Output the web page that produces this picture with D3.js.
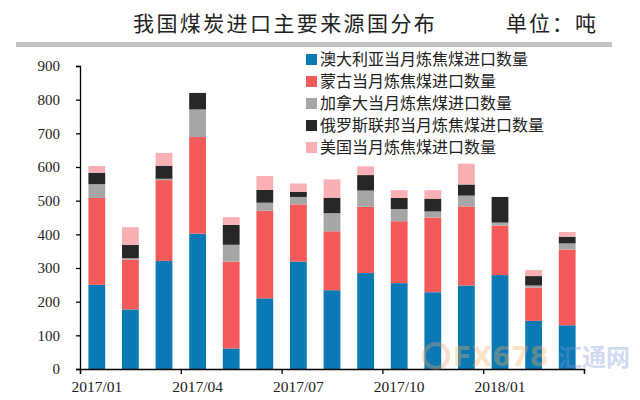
<!DOCTYPE html>
<html><head><meta charset="utf-8">
<script src="https://cdn.jsdelivr.net/npm/d3@7"></script>
<style>body{margin:0;background:#fff}svg{display:block}</style>
</head><body>
<svg id="c" width="640" height="400"></svg>
<script>
const months = ["2017/01","2017/02","2017/03","2017/04","2017/05","2017/06","2017/07","2017/08","2017/09","2017/10","2017/11","2017/12","2018/01","2018/02","2018/03"];
const australia = [250,177,321,402,61,210,319,234,285,255,228,248,279,143,130];
const mongolia  = [258,148,240,287,258,260,170,175,197,184,222,235,147,99,225];
const canada    = [41,4,4,82,50,24,22,54,48,36,18,32,9,6,18];
const russia    = [34,40,39,49,59,38,15,46,46,33,38,33,76,28,20];
const usa       = [20,52,38,0,23,41,25,54,26,23,25,62,0,18,14];
const seriesNames = ["澳大利亚当月炼焦煤进口数量","蒙古当月炼焦煤进口数量","加拿大当月炼焦煤进口数量","俄罗斯联邦当月炼焦煤进口数量","美国当月炼焦煤进口数量"];
const colors = ["#0b79b3","#f45a5a","#a6a6a6","#272727","#f8b0b4"];
const yTicks = [0,100,200,300,400,500,600,700,800,900];
const xLabelMonths = ["2017/01","2017/04","2017/07","2017/10","2018/01"];

const svg = d3.select("#c");
const serif = "'Liberation Serif','Times New Roman',serif";
const cjk = "'Noto Sans CJK SC','Noto Sans CJK JP',sans-serif";

// title
svg.append("text").attr("x",133).attr("y",31).attr("font-family",cjk).attr("font-size",21)
  .attr("letter-spacing",2.4).attr("fill","#222").text("我国煤炭进口主要来源国分布");
svg.append("text").attr("x",506).attr("y",31).attr("font-family",cjk).attr("font-size",21)
  .attr("letter-spacing",2).attr("fill","#222").text("单位：吨");
svg.append("rect").attr("x",16).attr("y",42).attr("width",596).attr("height",5).attr("fill","#c3c3c3");

const x0 = 80, x1 = 584, yTop = 66, yBot = 369;
const x = d3.scaleBand().domain(months).range([x0,x1]).paddingInner(0.5).paddingOuter(0.25);
const y = d3.scaleLinear().domain([0,900]).range([yBot,yTop]);

const table = months.map((m,i)=>({month:m,s0:australia[i],s1:mongolia[i],s2:canada[i],s3:russia[i],s4:usa[i]}));
const stack = d3.stack().keys(["s0","s1","s2","s3","s4"])(table);

svg.append("g").selectAll("g").data(stack).join("g").attr("fill",(d,i)=>colors[i])
  .selectAll("rect").data(d=>d).join("rect")
  .attr("x",d=>x(d.data.month)).attr("width",x.bandwidth())
  .attr("y",d=>y(d[1])).attr("height",d=>Math.max(0,y(d[0])-y(d[1])));

// y axis
const ya = svg.append("g").attr("transform",`translate(${x0},0)`)
  .call(d3.axisLeft(y).tickValues(yTicks).tickSize(4).tickPadding(16));
ya.selectAll("text").attr("font-family",serif).attr("font-size",15).attr("fill","#222");
ya.selectAll("line,path").attr("stroke","#000").attr("stroke-width",1.3);

// x axis: tick marks at band boundaries every 3 months
const xi = d3.scaleLinear().domain([0,months.length]).range([x0,x1]);
const xa = svg.append("g").attr("transform",`translate(0,${yBot})`)
  .call(d3.axisBottom(xi).tickValues([0,3,6,9,12,15]).tickSize(5).tickFormat(""));
xa.selectAll("line,path").attr("stroke","#000").attr("stroke-width",1.3);
const xl = svg.append("g").attr("transform",`translate(0,${yBot})`)
  .call(d3.axisBottom(x).tickValues(xLabelMonths).tickSize(0).tickPadding(12));
xl.select("path").remove();
xl.selectAll("text").attr("font-family",serif).attr("font-size",15.5).attr("fill","#222");

// watermark (overlaid)
const wm = svg.append("g").attr("opacity",0.35);
wm.append("circle").attr("cx",436).attr("cy",356).attr("r",12).attr("fill","none").attr("stroke","#e8a070").attr("stroke-width",4);
wm.append("text").attr("x",453).attr("y",366).attr("font-family","'DejaVu Sans',sans-serif").attr("font-weight","bold")
  .attr("font-size",27).attr("fill","#f5b060").text("FX678");
wm.append("text").attr("x",558).attr("y",366).attr("font-family",cjk).attr("font-weight","bold")
  .attr("font-size",24).attr("fill","#7a9ad8").text("汇通网");

// legend
const lg = svg.append("g").attr("transform","translate(306,52)");
seriesNames.forEach((n,i)=>{
  const g = lg.append("g").attr("transform",`translate(0,${i*22})`);
  g.append("rect").attr("width",11).attr("height",11).attr("y",2).attr("fill",colors[i]);
  g.append("text").attr("x",14).attr("y",13).attr("font-family",cjk).attr("font-size",16).attr("fill","#222").text(n);
});
</script>
</body></html>
